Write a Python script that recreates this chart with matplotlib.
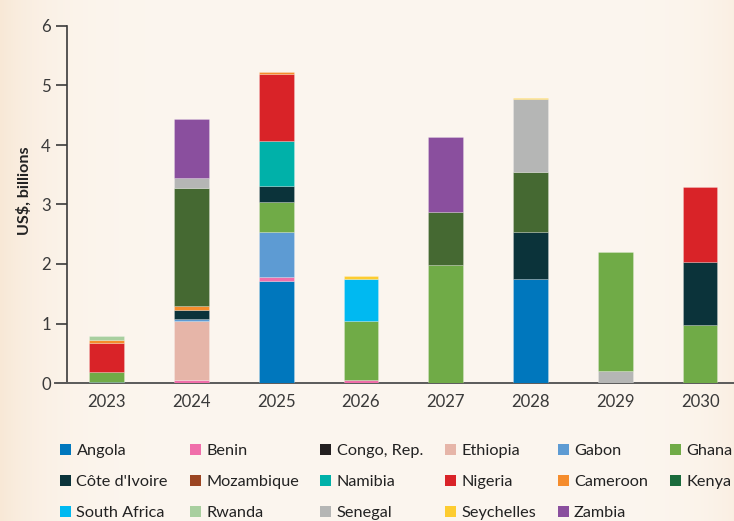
import numpy as np
import matplotlib
matplotlib.use("Agg")
import matplotlib.pyplot as plt
from matplotlib.patches import Patch
from matplotlib import font_manager

# ---------------- data ----------------
years = ["2023", "2024", "2025", "2026", "2027", "2028", "2029", "2030"]

angola        = [0.02, 0.00, 1.72, 0.00, 0.00, 1.75, 0.00, 0.00]
benin         = [0.00, 0.05, 0.06, 0.05, 0.00, 0.00, 0.00, 0.00]
congo_rep     = [0.00, 0.00, 0.00, 0.00, 0.00, 0.00, 0.00, 0.00]
ethiopia      = [0.00, 1.00, 0.00, 0.00, 0.00, 0.00, 0.00, 0.00]
gabon         = [0.00, 0.03, 0.75, 0.00, 0.00, 0.00, 0.00, 0.00]
ghana         = [0.17, 0.00, 0.51, 0.99, 1.99, 0.00, 2.00, 0.98]
cote_divoire  = [0.00, 0.15, 0.27, 0.00, 0.00, 0.79, 0.00, 1.05]
mozambique    = [0.00, 0.00, 0.00, 0.00, 0.00, 0.00, 0.00, 0.00]
namibia       = [0.00, 0.00, 0.75, 0.00, 0.00, 0.00, 0.00, 0.00]
nigeria       = [0.48, 0.00, 1.13, 0.00, 0.00, 0.00, 0.00, 1.26]
cameroon      = [0.05, 0.06, 0.045, 0.00, 0.00, 0.00, 0.00, 0.00]
kenya         = [0.00, 1.99, 0.00, 0.00, 0.89, 1.00, 0.00, 0.00]
south_africa  = [0.00, 0.00, 0.00, 0.70, 0.00, 0.00, 0.00, 0.00]
rwanda        = [0.07, 0.00, 0.00, 0.00, 0.00, 0.00, 0.00, 0.00]
senegal       = [0.00, 0.17, 0.00, 0.00, 0.00, 1.23, 0.20, 0.00]
seychelles    = [0.00, 0.00, 0.00, 0.05, 0.00, 0.02, 0.00, 0.00]
zambia        = [0.00, 0.99, 0.00, 0.00, 1.26, 0.00, 0.00, 0.00]

countries = ["Angola", "Benin", "Congo, Rep.", "Ethiopia", "Gabon", "Ghana",
             "Côte d'Ivoire", "Mozambique", "Namibia", "Nigeria", "Cameroon", "Kenya",
             "South Africa", "Rwanda", "Senegal", "Seychelles", "Zambia"]
values = [angola, benin, congo_rep, ethiopia, gabon, ghana,
          cote_divoire, mozambique, namibia, nigeria, cameroon, kenya,
          south_africa, rwanda, senegal, seychelles, zambia]
# series drawn first (at the bottom) in particular years
bottom_first = {"2029": ["Senegal"]}

bar_colors = {
    "Angola": "#0077bd", "Benin": "#f06eaa", "Congo, Rep.": "#231f20",
    "Ethiopia": "#e6b5a8", "Gabon": "#5d9bd3", "Ghana": "#70ab47",
    "Côte d'Ivoire": "#0b333a", "Mozambique": "#9b4522", "Namibia": "#00b1a9",
    "Nigeria": "#d92328", "Cameroon": "#f58c2c", "Kenya": "#456932",
    "South Africa": "#00b9f1", "Rwanda": "#a8cf9f", "Senegal": "#b5b6b5",
    "Seychelles": "#fdcc30", "Zambia": "#8a4f9e",
}
legend_colors = dict(bar_colors)
legend_colors["Kenya"] = "#1a6b3c"

# ---------------- fonts ----------------
names = {f.name for f in font_manager.fontManager.ttflist}
if "Liberation Sans Narrow" in names:
    FAM, SC = "Liberation Sans Narrow", 1.0
elif "Lato" in names:
    FAM, SC = "Lato", 0.86
elif "Roboto" in names:
    FAM, SC = "Roboto", 0.82
else:
    FAM, SC = "DejaVu Sans", 0.75
plt.rcParams["font.family"] = [FAM, "DejaVu Sans"]

W, H = 734, 521
fig = plt.figure(figsize=(W / 100, H / 100), dpi=100)
fig.patch.set_facecolor("#fcf5ee")

# background gradient (peach edges)
bg = fig.add_axes([0, 0, 1, 1], zorder=-10)
xs = np.arange(W)
base = np.array([252, 246, 239]) / 255.0
edge = np.array([248, 232, 214]) / 255.0
wl = np.exp(-xs / 45.0)
wr = 0.5 * np.exp(-(W - 1 - xs) / 35.0)
wgt = np.clip(wl + wr, 0, 1)[None, :, None]
img = base[None, None, :] * (1 - wgt) + edge[None, None, :] * wgt
img = np.repeat(img, 4, axis=0)
bg.imshow(img, aspect="auto", extent=[0, 1, 0, 1])
bg.axis("off")

# main axes
left_px, right_px, bottom_px, top_px = 55, 734, 383, 26
ax = fig.add_axes([left_px / W, 1 - bottom_px / H,
                   (right_px - left_px) / W, (bottom_px - top_px) / H])
ax.set_facecolor("none")

x = np.arange(len(years))
for yi, yr in enumerate(years):
    order = list(bottom_first.get(yr, []))
    order += [c for c in countries if c not in order]
    b = 0.0
    for c in order:
        v = values[countries.index(c)][yi]
        if v > 0:
            ax.bar(x[yi], v, bottom=b, width=0.41, color=bar_colors[c],
                   edgecolor=(1, 1, 1, 0.25), linewidth=0.6, zorder=3)
            b += v

ax.set_xlim(-0.61, 7.40)
ax.set_ylim(0, 6)
ax.set_xticks(x)
ax.set_xticklabels(years)
ax.set_yticks(range(0, 7))

for s in ["top", "right"]:
    ax.spines[s].set_visible(False)
ax.spines["left"].set_position(("data", -0.47))
ax.spines["left"].set_color("#3a3a3a")
ax.spines["left"].set_linewidth(1.2)
ax.spines["bottom"].set_color("#5a5a5a")
ax.spines["bottom"].set_linewidth(1.4)

ax.tick_params(axis="y", direction="out", length=8, width=1.2, color="#3a3a3a",
               labelsize=14 * SC, labelcolor="#3a3a3a", pad=3.5)
ax.tick_params(axis="x", length=0, labelsize=14 * SC, labelcolor="#3a3a3a", pad=8)

fig.text(24 / W, 1 - 191 / H, "US$, billions", rotation=90, ha="center", va="center",
         fontsize=13.5 * SC, fontweight="bold", color="#222222")

# legend: row-major order as in reference -> column-major for matplotlib
ncol = 6
nrow = int(np.ceil(len(countries) / ncol))
ordered = []
for c in range(ncol):
    for r in range(nrow):
        i = r * ncol + c
        if i < len(countries):
            ordered.append(countries[i])
handles = [Patch(facecolor=legend_colors[c], edgecolor="none", label=c) for c in ordered]
fs = 13.6 * SC
px = fs * 100 / 72
fig.legend(handles=handles, ncol=ncol, loc="upper left",
           bbox_to_anchor=(60 / W, 1 - 444 / H), frameon=False,
           fontsize=fs, handlelength=11 / px, handleheight=11 / px,
           handletextpad=5.5 / px,
           columnspacing=21.5 / px, labelspacing=16.5 / px,
           borderpad=0, borderaxespad=0, labelcolor="#222222")

fig.savefig("out.png", dpi=100, facecolor=fig.get_facecolor())
